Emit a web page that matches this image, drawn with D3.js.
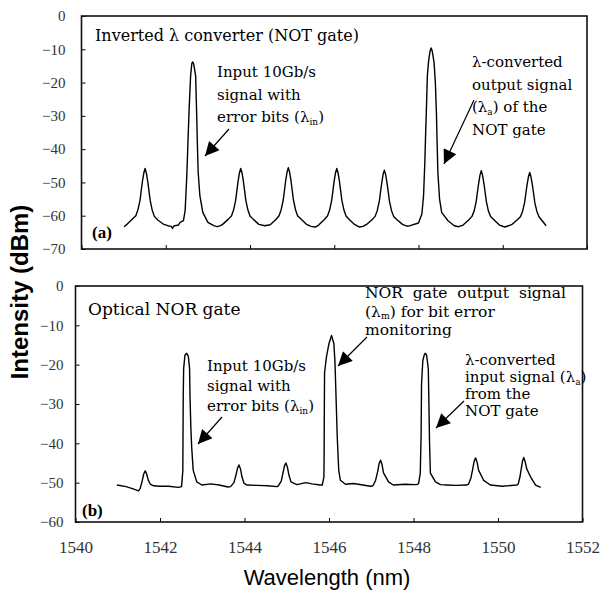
<!DOCTYPE html>
<html>
<head>
<meta charset="utf-8">
<script src="https://cdn.jsdelivr.net/npm/d3@7"></script>
<style>
  body { margin: 0; background: #fff; }
  svg { display: block; }
</style>
</head>
<body>
<script>
// size of the page
var w = 600;
var h = 595;

// tick labels
var wlTicks = [1540, 1542, 1544, 1546, 1548, 1550, 1552];
var topDbTicks = [0, -10, -20, -30, -40, -50, -60, -70];
var botDbTicks = [0, -10, -20, -30, -40, -50, -60];

// (a) inverted lambda converter spectrum: [wavelength nm, dBm]
var topTrace = [
  [1541.01,-63.3],[1541.08,-62.6],[1541.21,-61.0],[1541.29,-60.0],[1541.34,-58.2],[1541.39,-55.3],
  [1541.42,-52.2],[1541.45,-49.4],[1541.48,-47.1],[1541.51,-45.8],[1541.54,-47.2],[1541.57,-49.5],
  [1541.60,-52.4],[1541.63,-55.4],[1541.68,-58.4],[1541.73,-60.2],[1541.81,-61.3],[1541.94,-62.5],
  [1542.05,-63.0],[1542.13,-63.2],[1542.16,-63.8],[1542.19,-63.1],[1542.30,-62.8],
  [1542.34,-62.0],[1542.42,-61.5],[1542.46,-58.5],[1542.50,-48.0],[1542.535,-35.0],[1542.555,-28.0],
  [1542.59,-18.0],[1542.62,-14.2],[1542.64,-13.8],[1542.665,-14.5],[1542.71,-18.0],[1542.735,-30.0],
  [1542.75,-38.0],[1542.77,-47.0],[1542.81,-54.0],[1542.88,-59.0],[1543.00,-62.0],[1543.14,-63.0],
  [1543.22,-63.3],[1543.30,-63.0],
  [1543.35,-62.6],[1543.48,-61.1],[1543.56,-60.1],[1543.61,-58.3],[1543.66,-55.3],[1543.69,-52.3],
  [1543.72,-49.4],[1543.75,-47.1],[1543.78,-45.8],[1543.81,-47.1],[1543.84,-49.4],[1543.87,-52.3],
  [1543.90,-55.3],[1543.95,-58.3],[1544.00,-60.1],[1544.08,-61.1],[1544.21,-62.6],[1544.35,-63.0],
  [1544.48,-62.7],[1544.61,-61.2],[1544.69,-60.0],[1544.74,-58.2],[1544.79,-55.2],[1544.82,-52.2],
  [1544.85,-49.2],[1544.88,-46.9],[1544.91,-45.6],[1544.94,-46.9],[1544.97,-49.2],[1545.00,-52.2],
  [1545.03,-55.2],[1545.08,-58.2],[1545.13,-60.0],[1545.21,-61.0],[1545.34,-62.6],[1545.45,-63.2],
  [1545.55,-63.4],
  [1545.63,-62.8],[1545.76,-61.2],[1545.84,-60.1],[1545.89,-58.3],[1545.94,-55.3],[1545.97,-52.3],
  [1546.00,-49.4],[1546.03,-47.1],[1546.06,-45.8],[1546.09,-47.1],[1546.12,-49.4],[1546.15,-52.3],
  [1546.18,-55.3],[1546.23,-58.3],[1546.28,-60.1],[1546.36,-61.2],[1546.49,-62.7],[1546.60,-63.4],
  [1546.68,-63.2],
  [1546.76,-62.7],[1546.89,-61.3],[1546.97,-60.2],[1547.02,-58.5],[1547.07,-55.6],[1547.10,-52.7],
  [1547.13,-49.9],[1547.16,-47.6],[1547.19,-46.3],[1547.22,-47.6],[1547.25,-49.9],[1547.28,-52.7],
  [1547.31,-55.6],[1547.36,-58.5],[1547.41,-60.2],[1547.49,-61.2],[1547.62,-62.6],[1547.72,-63.1],
  [1547.80,-63.0],[1548.00,-62.2],[1548.08,-59.5],[1548.12,-54.0],[1548.15,-44.0],[1548.17,-35.0],
  [1548.19,-27.0],[1548.21,-18.0],[1548.24,-13.5],[1548.275,-10.5],[1548.30,-9.6],[1548.325,-10.5],
  [1548.37,-14.0],[1548.40,-20.0],[1548.425,-29.0],[1548.44,-37.0],[1548.46,-47.0],[1548.50,-55.0],
  [1548.55,-59.0],[1548.70,-61.5],[1548.85,-63.0],[1548.95,-63.3],
  [1549.06,-62.8],[1549.19,-61.3],[1549.27,-60.2],[1549.32,-58.6],[1549.37,-55.7],[1549.40,-52.8],
  [1549.43,-50.1],[1549.46,-47.8],[1549.49,-46.5],[1549.52,-47.8],[1549.55,-50.1],[1549.58,-52.8],
  [1549.61,-55.7],[1549.66,-58.6],[1549.71,-60.2],[1549.79,-61.2],[1549.92,-62.8],[1550.05,-63.4],
  [1550.12,-63.1],
  [1550.21,-62.7],[1550.34,-61.3],[1550.42,-60.3],[1550.47,-58.7],[1550.52,-56.0],[1550.55,-53.1],
  [1550.58,-50.5],[1550.61,-48.3],[1550.64,-47.0],[1550.67,-48.3],[1550.70,-50.5],[1550.73,-53.1],
  [1550.76,-56.0],[1550.81,-58.7],[1550.86,-60.3],[1550.94,-61.6],[1551.03,-63.0]
];

// (b) optical NOR gate spectrum: [wavelength nm, dBm]
var botTrace = [
  [1540.98,-50.6],[1541.20,-51.0],[1541.40,-51.7],[1541.49,-52.1],[1541.53,-51.5],[1541.58,-49.5],
  [1541.615,-47.8],[1541.65,-47.0],[1541.685,-47.8],[1541.72,-49.3],[1541.77,-50.4],[1541.85,-50.8],
  [1542.00,-50.9],[1542.20,-50.9],[1542.44,-51.2],[1542.51,-51.0],[1542.54,-47.0],[1542.545,-38.0],
  [1542.55,-28.0],[1542.56,-21.0],[1542.59,-17.6],[1542.63,-17.1],[1542.67,-17.8],[1542.70,-21.0],
  [1542.71,-28.0],[1542.73,-36.0],[1542.75,-41.0],[1542.785,-46.8],[1542.87,-49.8],[1542.99,-50.6],
  [1543.20,-50.3],[1543.40,-50.6],[1543.61,-51.1],[1543.67,-51.0],[1543.75,-50.0],[1543.80,-48.0],
  [1543.835,-46.3],[1543.87,-45.5],[1543.905,-46.5],[1543.94,-48.5],[1543.99,-50.2],[1544.06,-50.6],
  [1544.30,-50.7],[1544.55,-50.8],[1544.77,-51.0],[1544.80,-50.8],[1544.87,-49.6],[1544.91,-47.6],
  [1544.945,-45.8],[1544.98,-45.0],[1545.015,-46.0],[1545.05,-48.0],[1545.10,-49.8],[1545.24,-50.5],
  [1545.45,-50.0],[1545.60,-50.3],[1545.79,-50.6],[1545.84,-50.6],[1545.88,-48.5],[1545.885,-42.0],
  [1545.89,-30.0],[1545.895,-22.0],[1545.94,-18.0],[1546.00,-14.6],[1546.06,-12.6],[1546.115,-14.6],
  [1546.14,-19.0],[1546.155,-24.0],[1546.195,-38.3],[1546.23,-46.8],[1546.27,-49.4],[1546.39,-50.4],
  [1546.58,-50.2],[1546.98,-50.9],[1547.04,-50.8],[1547.10,-49.5],[1547.15,-47.3],[1547.185,-45.2],
  [1547.22,-44.3],[1547.255,-45.4],[1547.29,-47.5],[1547.41,-49.8],[1547.52,-50.6],[1547.80,-50.4],
  [1548.04,-50.5],[1548.08,-50.5],[1548.12,-50.2],[1548.16,-47.7],[1548.18,-38.0],[1548.19,-25.0],
  [1548.22,-19.0],[1548.255,-17.5],[1548.28,-17.1],[1548.31,-17.6],[1548.35,-21.0],[1548.365,-30.0],
  [1548.38,-40.0],[1548.40,-47.6],[1548.52,-49.8],[1548.64,-50.5],[1548.79,-50.6],[1549.00,-50.7],
  [1549.26,-50.6],[1549.30,-50.4],[1549.36,-48.8],[1549.40,-46.6],[1549.435,-44.6],[1549.47,-43.7],
  [1549.505,-44.8],[1549.54,-46.8],[1549.66,-49.4],[1549.82,-50.6],[1550.10,-50.9],[1550.45,-50.6],
  [1550.48,-50.3],[1550.52,-48.5],[1550.55,-46.5],[1550.58,-44.5],[1550.61,-43.6],[1550.645,-44.8],
  [1550.68,-46.5],[1550.77,-48.5],[1550.89,-50.6],[1551.01,-51.2]
];

var serif = "'Liberation Serif', 'Times New Roman', serif";
var wide = "'DejaVu Serif', serif";

//Create SVG element
var svg = d3.select("body")
            .append("svg")
            .attr("width", w)
            .attr("height", h);

// arrow head
svg.append("defs").append("marker")
   .attr("id", "head")
   .attr("viewBox", "0 0 10 10")
   .attr("refX", 10)
   .attr("refY", 5)
   .attr("markerUnits", "userSpaceOnUse")
   .attr("markerWidth", 17)
   .attr("markerHeight", 14)
   .attr("orient", "auto")
   .append("path")
   .attr("d", "M0,0L10,5L0,10Z")
   .attr("fill", "#000");

function drawPanel(p) {
    var x = d3.scaleLinear().domain([1540, 1552]).range([p.left, p.right]);
    var y = d3.scaleLinear().domain([p.ymin, 0]).range([p.bottom, p.top]);
    var g = svg.append("g");

    // y axis, labels on the left
    var ya = g.append("g")
        .attr("transform", "translate(" + p.left + ",0)")
        .call(d3.axisLeft(y).tickValues(p.yTicks).tickSize(-4).tickPadding(p.yPad)
              .tickFormat(d3.format("d")));
    ya.attr("font-family", null);
    ya.select(".domain").remove();
    ya.selectAll("text")
      .style("font-family", serif)
      .style("font-size", "15px")
      .attr("fill", "#333");

    // x axis ticks (labels only under the lower panel)
    var xa = g.append("g")
        .attr("transform", "translate(0," + p.bottom + ")")
        .call(d3.axisBottom(x).tickValues(wlTicks).tickSize(-4).tickPadding(19)
              .tickFormat(p.xLabels ? d3.format("d") : ""));
    xa.attr("font-family", null);
    xa.select(".domain").remove();
    xa.selectAll("text")
      .style("font-family", serif)
      .style("font-size", "17px")
      .attr("fill", "#333");

    // frame
    g.append("rect")
     .attr("x", p.left)
     .attr("y", p.top)
     .attr("width", p.right - p.left)
     .attr("height", p.bottom - p.top)
     .attr("fill", "none")
     .attr("stroke", "#111")
     .attr("stroke-width", 1.6);

    // spectrum
    var line = d3.line()
        .x(function(d) { return x(d[0]); })
        .y(function(d) { return y(d[1]); });
    g.append("path")
     .datum(p.trace)
     .attr("d", line)
     .attr("fill", "none")
     .attr("stroke", "#000")
     .attr("stroke-width", 1.4)
     .attr("stroke-linejoin", "round");
    return g;
}

var ga = drawPanel({ left: 81.5, right: 587, top: 16, bottom: 249, ymin: -70,
                     yTicks: topDbTicks, yPad: 16, xLabels: false, trace: topTrace });
var gb = drawPanel({ left: 75.5, right: 582.5, top: 286, bottom: 522, ymin: -60,
                     yTicks: botDbTicks, yPad: 12, xLabels: true, trace: botTrace });

// multi-line annotation; parts may carry a subscript
function note(g, x, y, lh, size, lines) {
    var t = g.append("text")
        .attr("font-family", wide)
        .attr("font-size", size + "px")
        .attr("fill", "#000");
    lines.forEach(function(ln, i) {
        var first = true;
        ln.forEach(function(part) {
            var s = t.append("tspan").text(part.t);
            if (first) { s.attr("x", x).attr("y", y + i * lh); first = false; }
            if (part.ws) s.attr("word-spacing", part.ws);
            if (part.sub) {
                s.attr("font-size", (size * 0.6) + "px").attr("dy", size * 0.18);
            } else if (part.after) {
                s.attr("dy", -size * 0.18);
            }
        });
    });
    return t;
}

function arrow(g, x1, y1, x2, y2) {
    g.append("line")
     .attr("x1", x1).attr("y1", y1)
     .attr("x2", x2).attr("y2", y2)
     .attr("stroke", "#000")
     .attr("stroke-width", 1.2)
     .attr("marker-end", "url(#head)");
}

// panel (a)
note(ga, 95, 41, 22, 16, [[{t: "Inverted \u03bb converter (NOT gate)"}]]);
note(ga, 217, 77, 22.5, 15, [
    [{t: "Input 10Gb/s"}],
    [{t: "signal with"}],
    [{t: "error bits (\u03bb"}, {t: "in", sub: true}, {t: ")", after: true}]
]);
arrow(ga, 229, 129, 205, 156);
note(ga, 472, 67, 22.5, 15, [
    [{t: "\u03bb-converted"}],
    [{t: "output signal"}],
    [{t: "(\u03bb"}, {t: "a", sub: true}, {t: ") of the", after: true}],
    [{t: "NOT gate"}]
]);
arrow(ga, 474, 100, 444, 164);
ga.append("text")
  .attr("x", 92).attr("y", 238)
  .attr("font-family", serif).attr("font-weight", "bold")
  .attr("font-size", "17px")
  .text("(a)");

// panel (b)
note(gb, 88, 315, 20, 17, [[{t: "Optical NOR gate"}]]);
note(gb, 207, 371, 20, 15, [
    [{t: "Input 10Gb/s"}],
    [{t: "signal with"}],
    [{t: "error bits (\u03bb"}, {t: "in", sub: true}, {t: ")", after: true}]
]);
arrow(gb, 222, 417, 198, 444);
note(gb, 365, 298, 18.5, 15.5, [
    [{t: "NOR gate output signal", ws: 5}],
    [{t: "(\u03bb"}, {t: "m", sub: true}, {t: ") for bit error", after: true}],
    [{t: "monitoring"}]
]);
arrow(gb, 367, 337, 338, 366);
note(gb, 465, 365, 17, 15, [
    [{t: "\u03bb-converted"}],
    [{t: "input signal (\u03bb"}, {t: "a", sub: true}, {t: ")", after: true}],
    [{t: "from the"}],
    [{t: "NOT gate"}]
]);
arrow(gb, 464, 401, 436, 428);
gb.append("text")
  .attr("x", 82).attr("y", 516)
  .attr("font-family", serif).attr("font-weight", "bold")
  .attr("font-size", "17px")
  .text("(b)");

// axis titles
svg.append("text")
   .attr("transform", "translate(28,292) rotate(-90)")
   .attr("text-anchor", "middle")
   .attr("font-family", "'Liberation Sans', Arial, sans-serif")
   .attr("font-weight", "bold")
   .attr("font-size", "24px")
   .text("Intensity (dBm)");

svg.append("text")
   .attr("x", 327).attr("y", 585)
   .attr("text-anchor", "middle")
   .attr("font-family", "'Liberation Sans', Arial, sans-serif")
   .attr("font-size", "22px")
   .text("Wavelength (nm)");
</script>
</body>
</html>
